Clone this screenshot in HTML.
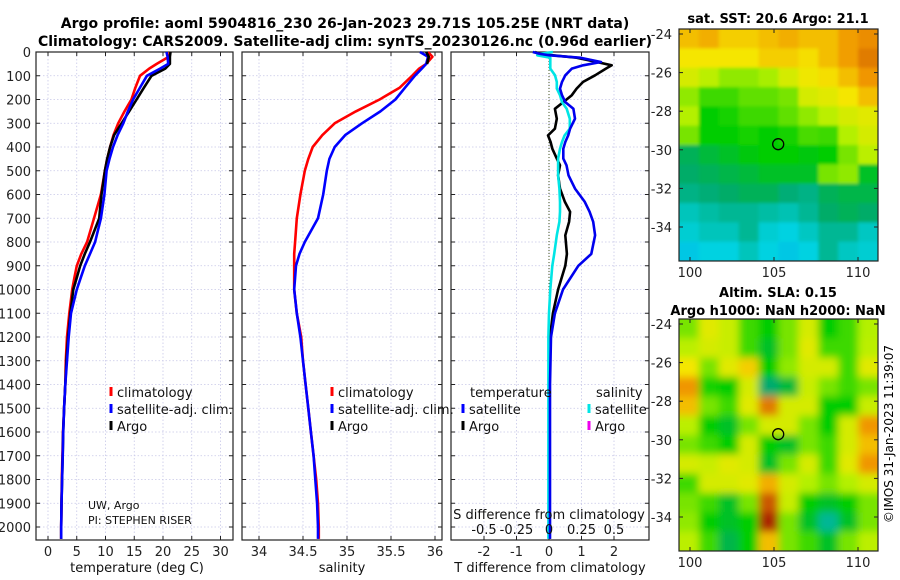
<!DOCTYPE html>
<html><head><meta charset="utf-8"><style>
html,body{margin:0;padding:0;background:#fff;}
svg{display:block;font-family:"DejaVu Sans","Liberation Sans",sans-serif;}
</style></head><body>
<svg id="fig" width="900" height="580" viewBox="0 0 900 580" xmlns="http://www.w3.org/2000/svg">
<defs>
<filter id="blurStrong" x="-20%" y="-20%" width="140%" height="140%" filterUnits="objectBoundingBox"><feGaussianBlur stdDeviation="4"/></filter>
<filter id="blurLight" x="-20%" y="-20%" width="140%" height="140%" filterUnits="objectBoundingBox"><feGaussianBlur stdDeviation="1.5"/></filter>
<clipPath id="clipSst"><rect x="679" y="29" width="199" height="232"/></clipPath>
<clipPath id="clipSla"><rect x="679" y="319" width="199" height="232"/></clipPath>
</defs>
<text x="345" y="28" font-size="14" font-weight="bold" text-anchor="middle">Argo profile: aoml 5904816_230 26-Jan-2023 29.71S 105.25E (NRT data)</text>
<text x="345" y="46" font-size="14" font-weight="bold" text-anchor="middle">Climatology: CARS2009. Satellite-adj clim: synTS_20230126.nc (0.96d earlier)</text>
<text x="778" y="23" font-size="13" font-weight="bold" text-anchor="middle">sat. SST: 20.6 Argo: 21.1</text>
<text x="778" y="297" font-size="13" font-weight="bold" text-anchor="middle">Altim. SLA: 0.15</text>
<text x="778" y="315" font-size="13" font-weight="bold" text-anchor="middle">Argo h1000: NaN h2000: NaN</text>
<text transform="translate(893,434) rotate(-90)" font-size="12" text-anchor="middle">©IMOS 31-Jan-2023 11:39:07</text>
<g id="g"></g>
</svg>
<script>
// ---- data ----
const depths = [0,20,50,70,100,150,200,250,300,350,400,450,500,600,700,800,850,900,950,1000,1100,1200,1300,1400,1500,1600,1700,1800,1900,2000,2050];
const tempClim = [21.2,21.0,18.9,17.6,16.0,15.2,14.5,13.3,12.2,11.4,10.8,10.3,9.9,9.2,8.0,6.8,5.8,5.0,4.6,4.2,3.7,3.3,3.1,3.0,2.8,2.6,2.5,2.4,2.35,2.3,2.3];
const tempSat = [20.6,20.8,20.9,19.5,17.2,16.0,14.8,13.9,13.1,12.1,11.3,10.7,10.2,9.8,9.2,8.2,7.3,6.4,5.7,5.0,4.0,3.6,3.3,3.0,2.8,2.65,2.55,2.45,2.35,2.3,2.3];
const tempArgo = [21.3,21.2,21.2,20.4,18.0,16.7,15.4,14.1,12.8,11.5,10.8,10.3,9.9,9.3,8.9,7.3,6.4,5.6,5.0,4.4,3.9,3.5,3.2,3.0,2.8,2.65,2.55,2.45,2.35,2.3,2.3];
const salClim = [35.92,35.97,35.9,35.82,35.74,35.6,35.37,35.1,34.86,34.72,34.61,34.56,34.52,34.47,34.43,34.41,34.4,34.4,34.4,34.4,34.43,34.48,34.5,34.53,34.56,34.59,34.62,34.65,34.67,34.68,34.68];
const salSat = [35.83,35.92,35.9,35.85,35.77,35.66,35.55,35.38,35.17,34.98,34.86,34.8,34.77,34.73,34.67,34.52,34.46,34.42,34.41,34.4,34.43,34.47,34.5,34.53,34.56,34.59,34.62,34.64,34.66,34.67,34.67];
const salArgoDepths = [0,20,50];
const salArgo = [35.9,35.93,35.91];
const tdDepths = [0,8,14,24,42,56,70,98,126,154,182,211,239,281,323,351,379,407,449,477,519,575,631,673,715,772,850,900,1000,1100,1200,1400,1600,1800,2000,2050];
const tdArgo = [-0.43,-0.3,0.12,0.85,1.47,1.93,1.75,1.42,1.05,0.85,0.7,0.44,0.18,0.24,0.18,-0.03,0.05,0.1,0.24,0.34,0.28,0.34,0.49,0.65,0.62,0.5,0.55,0.5,0.28,0.12,0.03,0.02,0.02,0.01,0.02,0.02];
const tdSat = [-0.5,-0.28,0.02,0.95,1.6,1.05,0.7,0.5,0.4,0.34,0.4,0.5,0.75,0.8,0.65,0.59,0.5,0.44,0.44,0.54,0.6,0.8,1.1,1.25,1.36,1.42,1.3,0.9,0.43,0.18,0.06,0.03,0.03,0.03,0.03,0.03];
const sdSat = [0.03,-0.07,-0.09,0.01,0.01,0.01,0.01,0.046,0.06,0.06,0.085,0.1,0.136,0.16,0.16,0.12,0.1,0.085,0.07,0.07,0.07,0.08,0.085,0.085,0.08,0.06,0.04,0.025,0.01,0.0,-0.005,-0.005,-0.005,-0.005,-0.005,-0.005];
const depthTicks = [0,100,200,300,400,500,600,700,800,900,1000,1100,1200,1300,1400,1500,1600,1700,1800,1900,2000];
const tempTicks = [0,5,10,15,20,25,30];
const salTicks = [34,34.5,35,35.5,36];
const tdTicks = [-2,-1,0,1,2];
const sdTicks = [-0.5,-0.25,0,0.25,0.5];
const sdTickLabels = ["-0.5","-0.25","0","0.25","0.5"];
const lonTicks = [100,105,110];
const latTicks = [-24,-26,-28,-30,-32,-34];
const argoLon = 105.25, argoLat = -29.71;
const sstGrid = [
[0.8,0.82,0.78,0.78,0.8,0.82,0.8,0.8,0.84,0.86],
[0.75,0.75,0.75,0.75,0.78,0.78,0.76,0.8,0.84,0.88],
[0.7,0.66,0.62,0.62,0.64,0.7,0.74,0.76,0.8,0.85],
[0.62,0.55,0.55,0.58,0.58,0.6,0.7,0.72,0.75,0.8],
[0.65,0.5,0.52,0.55,0.55,0.58,0.62,0.66,0.7,0.72],
[0.6,0.5,0.5,0.52,0.5,0.52,0.56,0.55,0.65,0.7],
[0.38,0.42,0.45,0.48,0.5,0.5,0.48,0.5,0.6,0.66],
[0.36,0.38,0.4,0.42,0.45,0.45,0.45,0.6,0.62,0.45],
[0.32,0.34,0.36,0.38,0.38,0.34,0.32,0.38,0.4,0.4],
[0.25,0.28,0.3,0.3,0.28,0.26,0.3,0.36,0.38,0.36],
[0.22,0.25,0.25,0.3,0.22,0.2,0.24,0.3,0.3,0.24],
[0.18,0.2,0.2,0.25,0.2,0.18,0.2,0.3,0.24,0.22]];
const slaGrid = [
[0.6,0.72,0.68,0.55,0.5,0.6,0.7,0.5,0.55,0.65],
[0.66,0.7,0.68,0.55,0.45,0.6,0.72,0.55,0.55,0.66],
[0.75,0.6,0.72,0.78,0.5,0.62,0.7,0.7,0.55,0.72],
[0.85,0.52,0.5,0.7,0.35,0.42,0.68,0.6,0.55,0.6],
[0.8,0.6,0.55,0.72,0.88,0.7,0.7,0.5,0.5,0.68],
[0.66,0.5,0.45,0.6,0.7,0.7,0.6,0.5,0.7,0.85],
[0.6,0.55,0.5,0.7,0.5,0.45,0.6,0.55,0.7,0.8],
[0.7,0.68,0.72,0.7,0.45,0.6,0.7,0.55,0.72,0.85],
[0.55,0.7,0.7,0.72,0.82,0.7,0.65,0.6,0.65,0.7],
[0.6,0.55,0.45,0.6,0.92,0.68,0.5,0.45,0.5,0.6],
[0.62,0.5,0.45,0.5,0.98,0.6,0.45,0.3,0.45,0.6],
[0.66,0.55,0.4,0.5,0.8,0.6,0.55,0.45,0.6,0.66]];

// ---- helpers ----
const NS="http://www.w3.org/2000/svg";
const G=document.getElementById('g');
function mk(tag,attrs,parent){const e=document.createElementNS(NS,tag);for(const k in attrs)e.setAttribute(k,attrs[k]);(parent||G).appendChild(e);return e;}
const top0=52, bot=540;
const yD = d => top0 + d*0.2375;
function lin(d0,d1,r0,r1){return v=>r0+(v-d0)*(r1-r0)/(d1-d0);}
const panels=[
 {name:'temperature',x0:36,x1:233,sx:lin(0,30,48,220.5)},
 {name:'salinity',x0:242,x1:442,sx:lin(34,36,259,435)},
 {name:'difference',x0:451,x1:649,sx:lin(-2,2,484,614)}
];
const sS = lin(-0.5,0.5,484,614);

function panelFrame(p,ticks,labels){
  const gp=mk('g',{});
  
  
  depthTicks.forEach(d=>{const l=mk('line',{x1:p.x0,x2:p.x1,y1:yD(d),y2:yD(d),stroke:'#c8c8e8','stroke-width':0.8,'stroke-dasharray':'1.5,2'},gp);});
  ticks.forEach(t=>{const x=p.sx(t);const l=mk('line',{x1:x,x2:x,y1:top0,y2:bot,stroke:'#c8c8e8','stroke-width':0.8,'stroke-dasharray':'1.5,2'},gp);
    mk('line',{x1:x,x2:x,y1:bot,y2:bot-4,stroke:'#222'},gp);mk('line',{x1:x,x2:x,y1:top0,y2:top0+4,stroke:'#222'},gp);
    const tl=mk('text',{x:x,y:556,'font-size':13,'text-anchor':'middle',fill:'#222'},gp);tl.textContent=labels?labels(t):t;});
  depthTicks.forEach(d=>{mk('line',{x1:p.x0,x2:p.x0+4,y1:yD(d),y2:yD(d),stroke:'#222'},gp);mk('line',{x1:p.x1,x2:p.x1-4,y1:yD(d),y2:yD(d),stroke:'#222'},gp);});
  const r=mk('rect',{x:p.x0,y:top0,width:p.x1-p.x0,height:bot-top0,fill:'none',stroke:'#222','stroke-width':1.2},gp);
  
  return gp;
}
function line(gp,xs,ds,sx,color,name,w){
  const pts=xs.map((v,i)=>sx(v).toFixed(1)+','+yD(ds[i]).toFixed(1)).join(' ');
  const l=mk('polyline',{points:pts,fill:'none',stroke:color,'stroke-width':w||2.6,'stroke-linejoin':'round'},gp);
  
  return l;
}
function legendEntry(gp,x,y,color,label,name){
  const g2=mk('g',{},gp);
  mk('rect',{x:x-1.5,y:y-10,width:3,height:9,fill:color},g2);
  const t=mk('text',{x:x+6,y:y,'font-size':13,fill:'#111'},g2);t.textContent=label;
}
depthTicks.forEach(d=>{const t=mk('text',{x:31,y:yD(d)+5,'font-size':13,'text-anchor':'end',fill:'#222'});t.textContent=d;});

// panel 1
const p1=panels[0];
const g1=panelFrame(p1,tempTicks);
line(g1,tempClim,depths,p1.sx,'#ff0000','temp-climatology-line');
line(g1,tempArgo,depths,p1.sx,'#000000','temp-argo-line');
line(g1,tempSat,depths,p1.sx,'#0000ff','temp-satellite-line');
legendEntry(g1,111,397,'#ff0000','climatology','legend-climatology');
legendEntry(g1,111,414,'#0000ff','satellite-adj. clim.','legend-satellite');
legendEntry(g1,111,431,'#000000','Argo','legend-argo');
let t=mk('text',{x:88,y:509,'font-size':11,fill:'#111'},g1);t.textContent='UW, Argo';
t=mk('text',{x:88,y:524,'font-size':11,fill:'#111'},g1);t.textContent='PI: STEPHEN RISER';
t=mk('text',{x:137,y:572,'font-size':13,'text-anchor':'middle',fill:'#111'},g1);t.textContent='temperature (deg C)';

// panel 2
const p2=panels[1];
const g2=panelFrame(p2,salTicks);
line(g2,salClim,depths,p2.sx,'#ff0000','sal-climatology-line');
line(g2,salSat,depths,p2.sx,'#0000ff','sal-satellite-line');
line(g2,salArgo,salArgoDepths,p2.sx,'#000000','sal-argo-line');
legendEntry(g2,332,397,'#ff0000','climatology','legend-climatology');
legendEntry(g2,332,414,'#0000ff','satellite-adj. clim.','legend-satellite');
legendEntry(g2,332,431,'#000000','Argo','legend-argo');
t=mk('text',{x:342,y:572,'font-size':13,'text-anchor':'middle',fill:'#111'},g2);t.textContent='salinity';

// panel 3
const p3=panels[2];
const g3=panelFrame(p3,tdTicks);
const z=mk('line',{x1:p3.sx(0),x2:p3.sx(0),y1:top0,y2:bot,stroke:'#445522','stroke-width':1,'stroke-dasharray':'1,2'},g3);

line(g3,tdArgo,tdDepths,p3.sx,'#000000','tdiff-argo-line');
line(g3,sdSat,tdDepths,sS,'#00e5e5','sdiff-satellite-line');
line(g3,tdSat,tdDepths,p3.sx,'#0000ee','tdiff-satellite-line');
legendEntry(g3,463,414,'#0000ff','satellite','legend-t-satellite');
legendEntry(g3,463,431,'#000000','Argo','legend-t-argo');
legendEntry(g3,589,414,'#00e5e5','satellite','legend-s-satellite');
legendEntry(g3,589,431,'#ee00ee','Argo','legend-s-argo');
t=mk('text',{x:470,y:397,'font-size':13,fill:'#111'},g3);t.textContent='temperature';
t=mk('text',{x:596,y:397,'font-size':13,fill:'#111'},g3);t.textContent='salinity';
t=mk('text',{x:549,y:519,'font-size':13,'text-anchor':'middle',fill:'#111'},g3);t.textContent='S difference from climatology';
sdTicks.forEach((v,i)=>{const s=mk('text',{x:sS(v),y:534,'font-size':13,'text-anchor':'middle',fill:'#111'},g3);s.textContent=sdTickLabels[i];});
t=mk('text',{x:550,y:572,'font-size':13,'text-anchor':'middle',fill:'#111'},g3);t.textContent='T difference from climatology';

// ---- maps ----
const stops=[[0,[0,100,255]],[0.2,[0,210,225]],[0.35,[0,170,110]],[0.5,[0,205,0]],[0.65,[180,240,0]],[0.75,[245,230,0]],[0.85,[240,150,0]],[1,[160,20,0]]];
function cmap(v){for(let i=1;i<stops.length;i++){if(v<=stops[i][0]){const a=stops[i-1],b=stops[i];const f=(v-a[0])/(b[0]-a[0]);const c=a[1].map((x,k)=>Math.round(x+(b[1][k]-x)*f));return 'rgb('+c.join(',')+')';}}return 'rgb(160,20,0)';}
function drawMap(name,grid,y0,y1,clipId,filterId){
  const x0=679,x1=878;
  const lonX=lin(100,110,690,858);
  const latY=lin(-24,-34,y0+5,y0+5+193);
  const gm=mk('g',{});
  const inner=mk('g',{'clip-path':'url(#'+clipId+')'},gm);
  const cells=mk('g',{filter:'url(#'+filterId+')'},inner);
  const rows=grid.length,cols=grid[0].length;const cw=(x1-x0)/cols,ch=(y1-y0)/rows;
  const pad=20;
  grid.forEach((row,r)=>row.forEach((v,c)=>{
    const xx=x0+c*cw-(c==0?pad:0), yy=y0+r*ch-(r==0?pad:0);
    const ww=cw+0.6+(c==0?pad:0)+(c==cols-1?pad:0), hh=ch+0.6+(r==0?pad:0)+(r==rows-1?pad:0);
    const rc=mk('rect',{x:xx,y:yy,width:ww,height:hh,fill:cmap(v)},cells);
    
  }));
  const ci=mk('circle',{cx:lonX(argoLon),cy:latY(argoLat),r:5.5,fill:'none',stroke:'#000','stroke-width':1.3},gm);
  
  mk('rect',{x:x0,y:y0,width:x1-x0,height:y1-y0,fill:'none',stroke:'#222','stroke-width':1.2},gm);
  lonTicks.forEach(l=>{const x=lonX(l);mk('line',{x1:x,x2:x,y1:y1,y2:y1-4,stroke:'#222'},gm);mk('line',{x1:x,x2:x,y1:y0,y2:y0+4,stroke:'#222'},gm);
    const tl=mk('text',{x:x,y:y1+16,'font-size':13,'text-anchor':'middle',fill:'#222'},gm);tl.textContent=l;});
  latTicks.forEach(l=>{const y=latY(l);mk('line',{x1:x0,x2:x0+4,y1:y,y2:y,stroke:'#222'},gm);mk('line',{x1:x1,x2:x1-4,y1:y,y2:y,stroke:'#222'},gm);
    const tl=mk('text',{x:672,y:y+5,'font-size':13,'text-anchor':'end',fill:'#222'},gm);tl.textContent=l;});
}
drawMap('sst-map',sstGrid,29,261,'clipSst','blurLight');
drawMap('sla-map',slaGrid,319,551,'clipSla','blurStrong');
</script>
</body></html>
